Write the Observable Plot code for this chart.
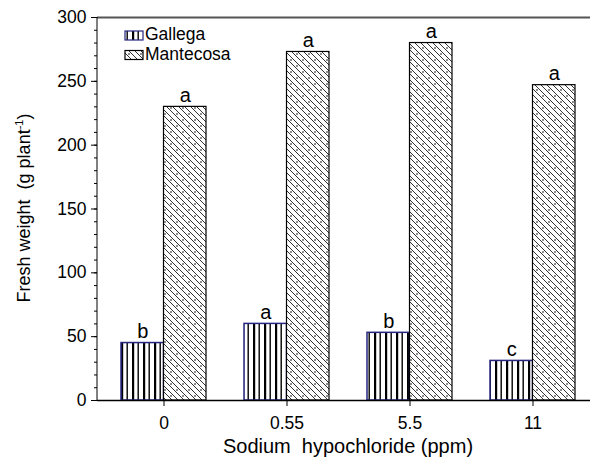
<!DOCTYPE html>
<html><head><meta charset="utf-8">
<script src="https://cdn.jsdelivr.net/npm/d3@7"></script>
<script src="https://cdn.jsdelivr.net/npm/@observablehq/plot@0.6"></script>
<style>body{margin:0;background:#fff} #chart{width:590px;height:460px}</style>
</head><body><div id="chart"></div>
<script>
const doses = ["0", "0.55", "5.5", "11"];
const seriesNames = ["Gallega", "Mantecosa"];
const gallega = [45, 60, 53, 31];
const mantecosa = [230, 273, 280, 247];
const gallegaLetters = ["b", "a", "b", "c"];
const mantecosaLetters = ["a", "a", "a", "a"];
const yTicks = [0, 50, 100, 150, 200, 250, 300];
const yMinorTicks = d3.range(0, 301, 10);
const xTitle = "Sodium  hypochloride (ppm)";
const yTitleMain = "Fresh weight  (g plant";
const yTitleSup = "-1";
const yTitleEnd = ")";

const gData = doses.map((d, i) => ({dose: d, value: gallega[i], letter: gallegaLetters[i]}));
const mData = doses.map((d, i) => ({dose: d, value: mantecosa[i], letter: mantecosaLetters[i]}));

const W = 590, H = 460, mL = 97, mR = 0, mT = 17, mB = 60;
const font = "'Liberation Sans', Arial, Helvetica, sans-serif";

function build(bw) {
  return Plot.plot({
    width: W, height: H,
    marginLeft: mL, marginRight: mR, marginTop: mT, marginBottom: mB,
    style: {fontFamily: font, background: "white", color: "black", overflow: "visible"},
    x: {domain: doses, paddingInner: 0.306, paddingOuter: 0.141, align: 0.63},
    y: {domain: [0, 300]},
    marks: [
      Plot.barY(gData, {x: "dose", y: "value", insetRight: bw / 2, fill: "url(#gallegaPat)", stroke: "#262680", strokeWidth: 1.5}),
      Plot.barY(mData, {x: "dose", y: "value", insetLeft: bw / 2, fill: "url(#mantecosaPat)", stroke: "#000", strokeWidth: 1.2}),
      Plot.text(gData, {x: "dose", y: "value", text: "letter", dx: -bw / 4, dy: -5, lineAnchor: "bottom", fontSize: 20, fill: "black"}),
      Plot.text(mData, {x: "dose", y: "value", text: "letter", dx: bw / 4, dy: -5, lineAnchor: "bottom", fontSize: 20, fill: "black"}),
      Plot.ruleY([300], {stroke: "#555", strokeWidth: 2}),
      Plot.ruleY([0], {stroke: "#000", strokeWidth: 1.5}),
      Plot.axisX({tickSize: 6, tickPadding: 10, fontSize: 17.5, label: null}),
      Plot.axisY({ticks: yTicks, tickSize: 6, tickPadding: 5, fontSize: 17.5, label: null}),
      Plot.axisY({ticks: yMinorTicks, tickSize: 3, tickFormat: () => "", label: null})
    ]
  });
}

const bw = build(0).scale("x").bandwidth;
const svg = build(bw);
document.getElementById("chart").appendChild(svg);

const s = d3.select(svg);
const defs = s.insert("defs", ":first-child");
const gp = defs.append("pattern").attr("id", "gallegaPat").attr("patternUnits", "userSpaceOnUse")
  .attr("width", 11).attr("height", 10);
gp.append("rect").attr("width", 11).attr("height", 10).attr("fill", "white");
gp.append("rect").attr("x", 0).attr("width", 2.2).attr("height", 10).attr("fill", "black");
gp.append("rect").attr("x", 5.5).attr("width", 1.4).attr("height", 10).attr("fill", "black");

const mp = defs.append("pattern").attr("id", "mantecosaPat").attr("patternUnits", "userSpaceOnUse")
  .attr("width", 12).attr("height", 12);
mp.append("rect").attr("width", 12).attr("height", 12).attr("fill", "white");
mp.append("path").attr("d", "M0,0L12,12M6,0L12,6M0,6L6,12M-1,11L1,13M11,-1L13,1")
  .attr("stroke", "#333").attr("stroke-width", 1).attr("fill", "none");
[[9, 6], [3, 0], [3, 12]].forEach(([cx, cy]) =>
  mp.append("circle").attr("cx", cx).attr("cy", cy).attr("r", 0.8).attr("fill", "black"));

// left axis line
s.append("line").attr("x1", mL).attr("x2", mL).attr("y1", mT).attr("y2", H - mB)
  .attr("stroke", "black").attr("stroke-width", 1);

// axis titles
s.append("text").attr("x", 348).attr("y", 453).attr("text-anchor", "middle")
  .attr("font-family", font).attr("font-size", 20).attr("fill", "black").text(xTitle);
const yt = s.append("text").attr("transform", "translate(30,208) rotate(-90)").attr("text-anchor", "middle")
  .attr("font-family", font).attr("font-size", 18).attr("fill", "black");
yt.append("tspan").text(yTitleMain);
yt.append("tspan").attr("font-size", 11).attr("dy", -7).text(yTitleSup);
yt.append("tspan").attr("dy", 7).text(yTitleEnd);

// legend
const lg = s.append("g").attr("font-family", font).attr("font-size", 17.5).attr("fill", "black")
  .attr("text-anchor", "start");
const legendFills = ["url(#gallegaPat)", "url(#mantecosaPat)"];
const legendStrokes = ["#262680", "#000"];
seriesNames.forEach((name, i) => {
  const y0 = 31 + i * 19.5;
  lg.append("rect").attr("x", 125).attr("y", y0).attr("width", 18).attr("height", 9)
    .attr("fill", legendFills[i]).attr("stroke", legendStrokes[i]).attr("stroke-width", 1.2);
  lg.append("text").attr("x", 145).attr("y", y0 + 9.3).attr("text-anchor", "start").text(name);
});
</script>
</body></html>
